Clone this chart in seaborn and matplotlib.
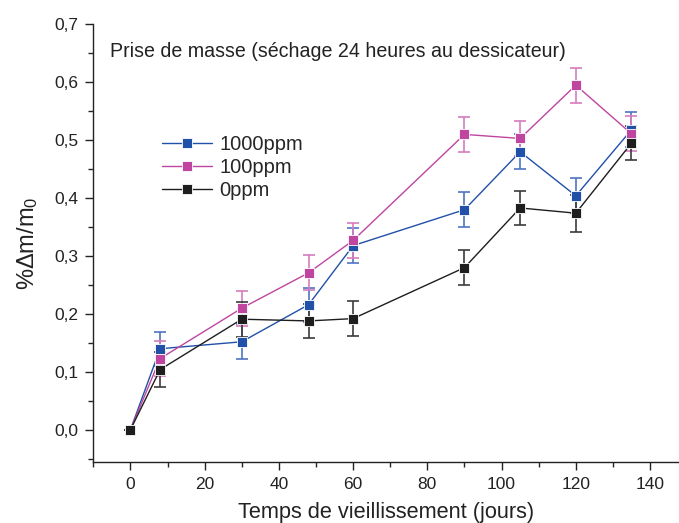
import pandas as pd
import seaborn as sns
import matplotlib.pyplot as plt
from matplotlib.ticker import MultipleLocator, FuncFormatter
from matplotlib.lines import Line2D

days = [0, 8, 30, 48, 60, 90, 105, 120, 135]
series = ['1000ppm', '100ppm', '0ppm']
m1000 = [0.0, 0.140, 0.152, 0.216, 0.318, 0.380, 0.480, 0.404, 0.518]
m100 = [0.0, 0.123, 0.210, 0.271, 0.327, 0.510, 0.503, 0.595, 0.511]
m0 = [0.0, 0.104, 0.191, 0.188, 0.192, 0.280, 0.383, 0.374, 0.495]
err1000 = [0.0, 0.029, 0.030, 0.029, 0.030, 0.030, 0.030, 0.030, 0.030]
err100 = [0.0, 0.030, 0.030, 0.030, 0.030, 0.030, 0.030, 0.030, 0.030]
err0 = [0.0, 0.030, 0.030, 0.030, 0.030, 0.030, 0.030, 0.032, 0.030]

colors = {'1000ppm': '#2150a8', '100ppm': '#bf45a0', '0ppm': '#1e1e1e'}
err_colors = {'1000ppm': '#4f74c4', '100ppm': '#d57cbd', '0ppm': '#3c3c3c'}

df = pd.concat([
    pd.DataFrame({'days': days, 'val': m1000, 'err': err1000, 'serie': '1000ppm'}),
    pd.DataFrame({'days': days, 'val': m100, 'err': err100, 'serie': '100ppm'}),
    pd.DataFrame({'days': days, 'val': m0, 'err': err0, 'serie': '0ppm'}),
])

sns.set_theme(style='ticks')
plt.rcParams['font.family'] = ['Liberation Sans', 'DejaVu Sans']
plt.rcParams['mathtext.fontset'] = 'custom'
plt.rcParams['mathtext.rm'] = 'Liberation Sans'
plt.rcParams['mathtext.it'] = 'Liberation Sans'

fig = plt.figure(figsize=(6.79, 5.23), dpi=100)
ax = fig.add_axes([0.1374, 0.1172, 0.8626, 0.8363])

for s in series:
    d = df[df.serie == s]
    ax.errorbar(d['days'], d['val'], yerr=d['err'], fmt='none', ecolor=err_colors[s],
                elinewidth=1.2, capsize=4.5, capthick=1.2, zorder=2)

sns.lineplot(data=df, x='days', y='val', hue='serie', hue_order=series, palette=colors,
             marker='s', markersize=6.5, markeredgecolor='white', markeredgewidth=0.6,
             linewidth=1.0, legend=False, ax=ax, zorder=3)

ax.set_xlim(-10, 147.8)
ax.set_ylim(-0.055, 0.7)
ax.xaxis.set_major_locator(MultipleLocator(20))
ax.xaxis.set_minor_locator(MultipleLocator(10))
ax.yaxis.set_major_locator(MultipleLocator(0.1))
ax.yaxis.set_minor_locator(MultipleLocator(0.05))
ax.yaxis.set_major_formatter(FuncFormatter(lambda v, p: f'{v:.1f}'.replace('.', ',')))
ax.tick_params(which='major', length=6, width=1.0, labelsize=12.5, colors='#222222', pad=5)
ax.tick_params(which='minor', length=3.5, width=1.0)
for side in ['top', 'right']:
    ax.spines[side].set_visible(False)
for side in ['left', 'bottom']:
    ax.spines[side].set_linewidth(1.0)
    ax.spines[side].set_color('#222222')

ax.set_xlabel('Temps de vieillissement (jours)', fontsize=15.7, color='#222222', labelpad=7)
ax.set_ylabel('%$\\Delta$m/m$_0$', fontsize=17, color='#222222', labelpad=10)

ax.text(0.0285, 0.937, 'Prise de masse (séchage 24 heures au dessicateur)',
        transform=ax.transAxes, fontsize=14.1, color='#222222', va='center')

handles = [Line2D([], [], color=colors[s], marker='s', markersize=6.5, linewidth=1.0,
                  markeredgecolor='white', markeredgewidth=0.6) for s in series]
ax.legend(handles, series, loc='upper left', bbox_to_anchor=(0.086, 0.789), frameon=False,
          fontsize=14.5, handlelength=2.5, handletextpad=0.35, labelspacing=0.2)

plt.savefig('out.png', dpi=100)
